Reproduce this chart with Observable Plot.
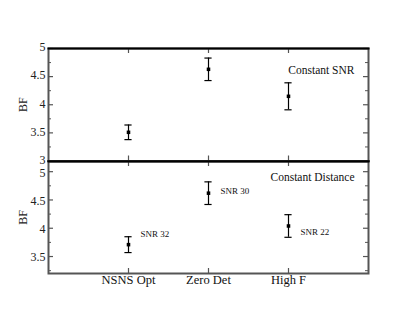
<!DOCTYPE html>
<html>
<head>
<meta charset="utf-8">
<script src="https://cdn.jsdelivr.net/npm/d3@7"></script>
<script src="https://cdn.jsdelivr.net/npm/@observablehq/plot@0.6"></script>
<style>
  body { margin: 0; background: #fff; }
  #wrap { position: relative; width: 415px; height: 321px; }
  #top, #bot { position: absolute; left: 0; }
  #top { top: 0; }
  #bot { top: 161px; }
</style>
</head>
<body>
<div id="wrap"><div id="top"></div><div id="bot"></div></div>
<script>
const categories = ["NSNS Opt", "Zero Det", "High F"];
// Constant SNR panel
const snrMean = [3.51, 4.63, 4.15];
const snrErr  = [0.13, 0.20, 0.24];
// Constant Distance panel
const distMean = [3.71, 4.62, 4.04];
const distErr  = [0.14, 0.20, 0.20];
const distLabels = ["SNR 32", "SNR 30", "SNR 22"];
const distLabelY = [3.89, 4.665, 3.93];
const panelTitles = ["Constant SNR", "Constant Distance"];
const panelTitleY = [4.61, 4.9];
const majorTicksTop = [3, 3.5, 4, 4.5, 5];
const minorTicksTop = [3.25, 3.75, 4.25, 4.75];
const majorTicksBot = [3.5, 4, 4.5, 5];
const minorTicksBot = [3.25, 3.75, 4.25, 4.75];

const W = 415, ML = 48, MR = 47;
const plotW = W - ML - MR;
const xpos = categories.map((c, i) => i + 1);
const font = "'Liberation Serif', 'Times New Roman', serif";
const frameCol = "#555";

function panel({means, errs, height, marginTop, marginBottom, domain, major, minor, showX, title, titleY, labels, labelY, topEdgeBlack, bottomEdgeBlack, labelDy}) {
  const data = categories.map((c, i) => ({x: xpos[i], c, m: means[i], lo: means[i] - errs[i], hi: means[i] + errs[i]}));
  const plotH = height - marginTop - marginBottom;
  const marks = [
    // inward ticks left/right
    Plot.ruleY(major, {y: d => d, insetRight: plotW - 5, stroke: frameCol, strokeWidth: 1.2}),
    Plot.ruleY(major, {y: d => d, insetLeft: plotW - 5, stroke: frameCol, strokeWidth: 1.2}),
    Plot.ruleY(minor, {y: d => d, insetRight: plotW - 3, stroke: frameCol, strokeWidth: 1}),
    Plot.ruleY(minor, {y: d => d, insetLeft: plotW - 3, stroke: frameCol, strokeWidth: 1}),
    // inward ticks top/bottom at categories
    Plot.ruleX(xpos, {x: d => d, insetBottom: plotH - 5, stroke: frameCol, strokeWidth: 1.2}),
    Plot.ruleX(xpos, {x: d => d, insetTop: plotH - 5, stroke: frameCol, strokeWidth: 1.2}),
    Plot.frame({stroke: frameCol, strokeWidth: 2}),
    Plot.axisY(major, {tickSize: 0, tickPadding: 3, fontSize: 12, fill: "#222", tickFormat: d => String(d), dy: labelDy,
      label: "BF", labelAnchor: "center", labelArrow: "none", labelOffset: 30}),
    // error bars
    Plot.ruleX(data, {x: "x", y1: "lo", y2: "hi", stroke: "#000", strokeWidth: 1.2}),
    Plot.ruleY(data, {y: "lo", x1: d => d.x - 0.045, x2: d => d.x + 0.045, stroke: "#000", strokeWidth: 1.2}),
    Plot.ruleY(data, {y: "hi", x1: d => d.x - 0.045, x2: d => d.x + 0.045, stroke: "#000", strokeWidth: 1.2}),
    Plot.dot(data, {x: "x", y: "m", symbol: "square", r: 2, fill: "#000", stroke: "none"}),
    Plot.text([title], {frameAnchor: "right", y: () => titleY, textAnchor: "end", dx: -14, fontSize: 11.5, fill: "#111"})
  ];
  if (topEdgeBlack) marks.push(Plot.frame({anchor: "top", stroke: "#000", strokeWidth: 2}));
  if (bottomEdgeBlack) marks.push(Plot.frame({anchor: "bottom", stroke: "#000", strokeWidth: 2}));
  if (labels) {
    marks.push(Plot.text(data, {x: "x", y: (d, i) => labelY[i], text: (d, i) => labels[i], textAnchor: "start", dx: 12, fontSize: 9, fill: "#111"}));
  }
  if (showX) {
    marks.push(Plot.axisX(xpos, {tickSize: 0, tickPadding: 2, fontSize: 12.5, fill: "#111", tickFormat: d => categories[d - 1], label: null}));
  } else {
    marks.push(Plot.axisX({ticks: [], label: null}));
  }
  return Plot.plot({
    width: W, height, marginLeft: ML, marginRight: MR, marginTop, marginBottom,
    style: {fontFamily: font, overflow: "visible", background: "transparent"},
    x: {type: "linear", domain: [0, 4]},
    y: {domain},
    marks
  });
}

document.getElementById("top").append(panel({
  means: snrMean, errs: snrErr, height: 161, marginTop: 48, marginBottom: 0.5,
  domain: [3, 5], major: majorTicksTop, minor: minorTicksTop, showX: false,
  title: panelTitles[0], titleY: panelTitleY[0], topEdgeBlack: true, bottomEdgeBlack: true, labelDy: -1
}));
document.getElementById("bot").append(panel({
  means: distMean, errs: distErr, height: 160, marginTop: 0, marginBottom: 48,
  domain: [3.2, 5.18], major: majorTicksBot, minor: minorTicksBot, showX: true,
  title: panelTitles[1], titleY: panelTitleY[1], labels: distLabels, labelY: distLabelY, topEdgeBlack: true, labelDy: 1
}));
</script>
</body>
</html>
